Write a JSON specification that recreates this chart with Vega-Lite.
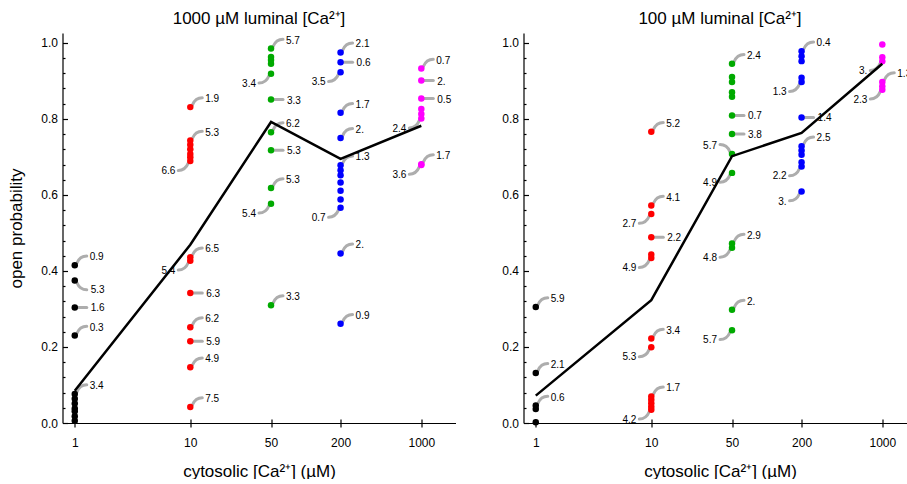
{
  "$schema": "https://vega.github.io/schema/vega-lite/v6.json",
  "background": "white",
  "padding": {"left": 7.5, "top": 10, "right": 0, "bottom": 0},
  "spacing": 46,
  "datasets": {
    "left": [
      {"cyto": 1, "po": 0.415, "label": "0.9", "dir": "ur"},
      {"cyto": 1, "po": 0.375, "label": "5.3", "dir": "dr"},
      {"cyto": 1, "po": 0.304, "label": "1.6", "dir": "r"},
      {"cyto": 1, "po": 0.230, "label": "0.3", "dir": "ur"},
      {"cyto": 1, "po": 0.076, "label": "3.4", "dir": "ur"},
      {"cyto": 1, "po": 0.064},
      {"cyto": 1, "po": 0.051},
      {"cyto": 1, "po": 0.038},
      {"cyto": 1, "po": 0.031},
      {"cyto": 1, "po": 0.018},
      {"cyto": 1, "po": 0.006},
      {"cyto": 10, "po": 0.831, "label": "1.9", "dir": "ur"},
      {"cyto": 10, "po": 0.743, "label": "5.3", "dir": "ur"},
      {"cyto": 10, "po": 0.732},
      {"cyto": 10, "po": 0.720},
      {"cyto": 10, "po": 0.708},
      {"cyto": 10, "po": 0.699},
      {"cyto": 10, "po": 0.689, "label": "6.6", "dir": "dl"},
      {"cyto": 10, "po": 0.436, "label": "6.5", "dir": "ur"},
      {"cyto": 10, "po": 0.427, "label": "5.4", "dir": "dl"},
      {"cyto": 10, "po": 0.342, "label": "6.3", "dir": "r"},
      {"cyto": 10, "po": 0.252, "label": "6.2", "dir": "ur"},
      {"cyto": 10, "po": 0.215, "label": "5.9", "dir": "r"},
      {"cyto": 10, "po": 0.1465, "label": "4.9", "dir": "ur"},
      {"cyto": 10, "po": 0.042, "label": "7.5", "dir": "ur"},
      {"cyto": 50, "po": 0.985, "label": "5.7", "dir": "ur"},
      {"cyto": 50, "po": 0.963},
      {"cyto": 50, "po": 0.955},
      {"cyto": 50, "po": 0.945},
      {"cyto": 50, "po": 0.919, "label": "3.4", "dir": "dl"},
      {"cyto": 50, "po": 0.851, "label": "3.3", "dir": "r"},
      {"cyto": 50, "po": 0.765, "label": "6.2", "dir": "ur"},
      {"cyto": 50, "po": 0.7175, "label": "5.3", "dir": "r"},
      {"cyto": 50, "po": 0.618, "label": "5.3", "dir": "ur"},
      {"cyto": 50, "po": 0.577, "label": "5.4", "dir": "dl"},
      {"cyto": 50, "po": 0.310, "label": "3.3", "dir": "ur"},
      {"cyto": 200, "po": 0.975, "label": "2.1", "dir": "ur"},
      {"cyto": 200, "po": 0.949, "label": "0.6", "dir": "r"},
      {"cyto": 200, "po": 0.923, "label": "3.5", "dir": "dl"},
      {"cyto": 200, "po": 0.816, "label": "1.7", "dir": "ur"},
      {"cyto": 200, "po": 0.750, "label": "2.", "dir": "ur"},
      {"cyto": 200, "po": 0.678, "label": "1.3", "dir": "ur"},
      {"cyto": 200, "po": 0.665},
      {"cyto": 200, "po": 0.652},
      {"cyto": 200, "po": 0.633},
      {"cyto": 200, "po": 0.611},
      {"cyto": 200, "po": 0.588},
      {"cyto": 200, "po": 0.566, "label": "0.7", "dir": "dl"},
      {"cyto": 200, "po": 0.446, "label": "2.", "dir": "ur"},
      {"cyto": 200, "po": 0.261, "label": "0.9", "dir": "ur"},
      {"cyto": 1000, "po": 0.9325, "label": "0.7", "dir": "ur"},
      {"cyto": 1000, "po": 0.901, "label": "2.", "dir": "r"},
      {"cyto": 1000, "po": 0.8535, "label": "0.5", "dir": "r"},
      {"cyto": 1000, "po": 0.826},
      {"cyto": 1000, "po": 0.813},
      {"cyto": 1000, "po": 0.801, "label": "2.4", "dir": "dl"},
      {"cyto": 1000, "po": 0.681, "label": "1.7", "dir": "ur"},
      {"cyto": 1000, "po": 0.679, "label": "3.6", "dir": "dl"}
    ],
    "leftMean": [
      {"cyto": 1, "po": 0.085},
      {"cyto": 10, "po": 0.469},
      {"cyto": 50, "po": 0.792},
      {"cyto": 200, "po": 0.695},
      {"cyto": 1000, "po": 0.782}
    ],
    "right": [
      {"cyto": 1, "po": 0.305, "label": "5.9", "dir": "ur"},
      {"cyto": 1, "po": 0.1316, "label": "2.1", "dir": "ur"},
      {"cyto": 1, "po": 0.046, "label": "0.6", "dir": "ur"},
      {"cyto": 1, "po": 0.037},
      {"cyto": 1, "po": 0.002},
      {"cyto": 10, "po": 0.766, "label": "5.2", "dir": "ur"},
      {"cyto": 10, "po": 0.572, "label": "4.1", "dir": "ur"},
      {"cyto": 10, "po": 0.550, "label": "2.7", "dir": "dl"},
      {"cyto": 10, "po": 0.4886, "label": "2.2", "dir": "r"},
      {"cyto": 10, "po": 0.443},
      {"cyto": 10, "po": 0.434, "label": "4.9", "dir": "dl"},
      {"cyto": 10, "po": 0.222, "label": "3.4", "dir": "ur"},
      {"cyto": 10, "po": 0.199, "label": "5.3", "dir": "dl"},
      {"cyto": 10, "po": 0.070, "label": "1.7", "dir": "ur"},
      {"cyto": 10, "po": 0.061},
      {"cyto": 10, "po": 0.052},
      {"cyto": 10, "po": 0.043},
      {"cyto": 10, "po": 0.035, "label": "4.2", "dir": "dl"},
      {"cyto": 50, "po": 0.945, "label": "2.4", "dir": "ur"},
      {"cyto": 50, "po": 0.910},
      {"cyto": 50, "po": 0.897},
      {"cyto": 50, "po": 0.870},
      {"cyto": 50, "po": 0.858},
      {"cyto": 50, "po": 0.809, "label": "0.7", "dir": "r"},
      {"cyto": 50, "po": 0.7605, "label": "3.8", "dir": "r"},
      {"cyto": 50, "po": 0.708, "label": "5.7", "dir": "ul"},
      {"cyto": 50, "po": 0.658, "label": "4.9", "dir": "dl"},
      {"cyto": 50, "po": 0.472, "label": "2.9", "dir": "ur"},
      {"cyto": 50, "po": 0.461, "label": "4.8", "dir": "dl"},
      {"cyto": 50, "po": 0.298, "label": "2.", "dir": "ur"},
      {"cyto": 50, "po": 0.244, "label": "5.7", "dir": "dl"},
      {"cyto": 200, "po": 0.978, "label": "0.4", "dir": "ur"},
      {"cyto": 200, "po": 0.965},
      {"cyto": 200, "po": 0.952},
      {"cyto": 200, "po": 0.908},
      {"cyto": 200, "po": 0.897, "label": "1.3", "dir": "dl"},
      {"cyto": 200, "po": 0.804, "label": "1.4", "dir": "r"},
      {"cyto": 200, "po": 0.728, "label": "2.5", "dir": "ur"},
      {"cyto": 200, "po": 0.717},
      {"cyto": 200, "po": 0.706},
      {"cyto": 200, "po": 0.686},
      {"cyto": 200, "po": 0.675, "label": "2.2", "dir": "dl"},
      {"cyto": 200, "po": 0.609, "label": "3.", "dir": "dl"},
      {"cyto": 1000, "po": 0.996},
      {"cyto": 1000, "po": 0.962},
      {"cyto": 1000, "po": 0.952, "label": "3.", "dir": "dl"},
      {"cyto": 1000, "po": 0.897, "label": "1.3", "dir": "ur"},
      {"cyto": 1000, "po": 0.886},
      {"cyto": 1000, "po": 0.877, "label": "2.3", "dir": "dl"}
    ],
    "rightMean": [
      {"cyto": 1, "po": 0.072},
      {"cyto": 10, "po": 0.323},
      {"cyto": 50, "po": 0.702},
      {"cyto": 200, "po": 0.763},
      {"cyto": 1000, "po": 0.945}
    ]
  },
  "hconcat": [
    {
      "width": 393,
      "height": 390,
      "title": {"text": "1000 µM luminal [Ca²⁺]"},
      "data": {"name": "left"},
      "resolve": {"axis": {"x": "independent", "y": "independent"}},
      "layer": [
        {
          "transform": [{"filter": "isValid(datum.dir)"}],
          "mark": {"type": "point", "filled": false, "color": "#adadad", "strokeWidth": 3, "strokeCap": "round", "size": 576, "opacity": 1},
          "encoding": {
            "x": {"field": "cyto", "type": "quantitative", "scale": {"type": "log", "domain": [0.783, 1977], "nice": false, "zero": false}, "axis": {"values": [1, 10, 50, 200, 1000], "tickSize": -4, "labels": false, "domain": false, "title": null, "orient": "bottom"}},
            "y": {"field": "po", "type": "quantitative", "scale": {"domain": [0, 1.026], "nice": false, "zero": false}, "axis": {"values": [0.04, 0.08, 0.12, 0.16, 0.24, 0.28, 0.32, 0.36, 0.44, 0.48, 0.52, 0.56, 0.64, 0.68, 0.72, 0.76, 0.84, 0.88, 0.92, 0.96], "tickSize": -2.5, "labels": false, "domain": false, "title": null, "orient": "left"}},
            "shape": {"field": "dir", "type": "nominal", "legend": null, "scale": {"domain": ["ur", "r", "dr", "dl", "ul"], "range": ["M0.17,-0.17 Q0.42,-0.78 1,-0.78", "M0.25,0 L1,0", "M0.17,0.17 Q0.42,0.78 1,0.78", "M-0.17,0.17 Q-0.42,0.78 -1,0.78", "M-0.17,-0.17 Q-0.42,-0.78 -1,-0.78"]}}
          }
        },
        {
          "mark": {"type": "point", "filled": true, "size": 42, "opacity": 1},
          "encoding": {
            "x": {"field": "cyto", "type": "quantitative", "scale": {"type": "log", "domain": [0.783, 1977], "nice": false, "zero": false}, "axis": {"values": [1, 10, 50, 200, 1000], "format": "d", "tickSize": 4, "title": "cytosolic [Ca²⁺] (µM)", "orient": "bottom", "labelPadding": 10, "titlePadding": 15}},
            "y": {"field": "po", "type": "quantitative", "scale": {"domain": [0, 1.026], "nice": false, "zero": false}, "axis": {"values": [0, 0.2, 0.4, 0.6, 0.8, 1.0], "format": ".1f", "tickSize": -5, "labelPadding": 10, "title": "open probability", "orient": "left", "titlePadding": 15}},
            "color": {"field": "cyto", "type": "ordinal", "legend": null, "scale": {"domain": [1, 10, 50, 200, 1000], "range": ["#000000", "#ff0000", "#00aa00", "#0000ff", "#ff00ff"]}}
          }
        },
        {
          "transform": [{"filter": "datum.dir === 'ur'"}],
          "mark": {"type": "text", "align": "left", "baseline": "middle", "dx": 15, "dy": -8, "fontSize": 10, "font": "Liberation Sans", "color": "black"},
          "encoding": {"x": {"field": "cyto", "type": "quantitative", "axis": null}, "y": {"field": "po", "type": "quantitative", "axis": null}, "text": {"field": "label"}}
        },
        {
          "transform": [{"filter": "datum.dir === 'r'"}],
          "mark": {"type": "text", "align": "left", "baseline": "middle", "dx": 16, "dy": 1, "fontSize": 10, "font": "Liberation Sans", "color": "black"},
          "encoding": {"x": {"field": "cyto", "type": "quantitative", "axis": null}, "y": {"field": "po", "type": "quantitative", "axis": null}, "text": {"field": "label"}}
        },
        {
          "transform": [{"filter": "datum.dir === 'dr'"}],
          "mark": {"type": "text", "align": "left", "baseline": "middle", "dx": 16, "dy": 10, "fontSize": 10, "font": "Liberation Sans", "color": "black"},
          "encoding": {"x": {"field": "cyto", "type": "quantitative", "axis": null}, "y": {"field": "po", "type": "quantitative", "axis": null}, "text": {"field": "label"}}
        },
        {
          "transform": [{"filter": "datum.dir === 'dl'"}],
          "mark": {"type": "text", "align": "right", "baseline": "middle", "dx": -15, "dy": 10, "fontSize": 10, "font": "Liberation Sans", "color": "black"},
          "encoding": {"x": {"field": "cyto", "type": "quantitative", "axis": null}, "y": {"field": "po", "type": "quantitative", "axis": null}, "text": {"field": "label"}}
        },
        {
          "transform": [{"filter": "datum.dir === 'ul'"}],
          "mark": {"type": "text", "align": "right", "baseline": "middle", "dx": -15, "dy": -8, "fontSize": 10, "font": "Liberation Sans", "color": "black"},
          "encoding": {"x": {"field": "cyto", "type": "quantitative", "axis": null}, "y": {"field": "po", "type": "quantitative", "axis": null}, "text": {"field": "label"}}
        },
        {
          "data": {"name": "leftMean"},
          "mark": {"type": "line", "color": "black", "strokeWidth": 2.5},
          "encoding": {"x": {"field": "cyto", "type": "quantitative", "axis": null}, "y": {"field": "po", "type": "quantitative", "axis": null}}
        }
      ]
    },
    {
      "width": 393,
      "height": 390,
      "title": {"text": "100 µM luminal [Ca²⁺]"},
      "data": {"name": "right"},
      "resolve": {"axis": {"x": "independent", "y": "independent"}},
      "layer": [
        {
          "transform": [{"filter": "isValid(datum.dir)"}],
          "mark": {"type": "point", "filled": false, "color": "#adadad", "strokeWidth": 3, "strokeCap": "round", "size": 576, "opacity": 1},
          "encoding": {
            "x": {"field": "cyto", "type": "quantitative", "scale": {"type": "log", "domain": [0.783, 1977], "nice": false, "zero": false}, "axis": {"values": [1, 10, 50, 200, 1000], "tickSize": -4, "labels": false, "domain": false, "title": null, "orient": "bottom"}},
            "y": {"field": "po", "type": "quantitative", "scale": {"domain": [0, 1.026], "nice": false, "zero": false}, "axis": {"values": [0.04, 0.08, 0.12, 0.16, 0.24, 0.28, 0.32, 0.36, 0.44, 0.48, 0.52, 0.56, 0.64, 0.68, 0.72, 0.76, 0.84, 0.88, 0.92, 0.96], "tickSize": -2.5, "labels": false, "domain": false, "title": null, "orient": "left"}},
            "shape": {"field": "dir", "type": "nominal", "legend": null, "scale": {"domain": ["ur", "r", "dr", "dl", "ul"], "range": ["M0.17,-0.17 Q0.42,-0.78 1,-0.78", "M0.25,0 L1,0", "M0.17,0.17 Q0.42,0.78 1,0.78", "M-0.17,0.17 Q-0.42,0.78 -1,0.78", "M-0.17,-0.17 Q-0.42,-0.78 -1,-0.78"]}}
          }
        },
        {
          "mark": {"type": "point", "filled": true, "size": 42, "opacity": 1},
          "encoding": {
            "x": {"field": "cyto", "type": "quantitative", "scale": {"type": "log", "domain": [0.783, 1977], "nice": false, "zero": false}, "axis": {"values": [1, 10, 50, 200, 1000], "format": "d", "tickSize": 4, "title": "cytosolic [Ca²⁺] (µM)", "orient": "bottom", "labelPadding": 10, "titlePadding": 15}},
            "y": {"field": "po", "type": "quantitative", "scale": {"domain": [0, 1.026], "nice": false, "zero": false}, "axis": {"values": [0, 0.2, 0.4, 0.6, 0.8, 1.0], "format": ".1f", "tickSize": -5, "labelPadding": 10, "title": null, "orient": "left"}},
            "color": {"field": "cyto", "type": "ordinal", "legend": null, "scale": {"domain": [1, 10, 50, 200, 1000], "range": ["#000000", "#ff0000", "#00aa00", "#0000ff", "#ff00ff"]}}
          }
        },
        {
          "transform": [{"filter": "datum.dir === 'ur'"}],
          "mark": {"type": "text", "align": "left", "baseline": "middle", "dx": 15, "dy": -8, "fontSize": 10, "font": "Liberation Sans", "color": "black"},
          "encoding": {"x": {"field": "cyto", "type": "quantitative", "axis": null}, "y": {"field": "po", "type": "quantitative", "axis": null}, "text": {"field": "label"}}
        },
        {
          "transform": [{"filter": "datum.dir === 'r'"}],
          "mark": {"type": "text", "align": "left", "baseline": "middle", "dx": 16, "dy": 1, "fontSize": 10, "font": "Liberation Sans", "color": "black"},
          "encoding": {"x": {"field": "cyto", "type": "quantitative", "axis": null}, "y": {"field": "po", "type": "quantitative", "axis": null}, "text": {"field": "label"}}
        },
        {
          "transform": [{"filter": "datum.dir === 'dr'"}],
          "mark": {"type": "text", "align": "left", "baseline": "middle", "dx": 16, "dy": 10, "fontSize": 10, "font": "Liberation Sans", "color": "black"},
          "encoding": {"x": {"field": "cyto", "type": "quantitative", "axis": null}, "y": {"field": "po", "type": "quantitative", "axis": null}, "text": {"field": "label"}}
        },
        {
          "transform": [{"filter": "datum.dir === 'dl'"}],
          "mark": {"type": "text", "align": "right", "baseline": "middle", "dx": -15, "dy": 10, "fontSize": 10, "font": "Liberation Sans", "color": "black"},
          "encoding": {"x": {"field": "cyto", "type": "quantitative", "axis": null}, "y": {"field": "po", "type": "quantitative", "axis": null}, "text": {"field": "label"}}
        },
        {
          "transform": [{"filter": "datum.dir === 'ul'"}],
          "mark": {"type": "text", "align": "right", "baseline": "middle", "dx": -15, "dy": -8, "fontSize": 10, "font": "Liberation Sans", "color": "black"},
          "encoding": {"x": {"field": "cyto", "type": "quantitative", "axis": null}, "y": {"field": "po", "type": "quantitative", "axis": null}, "text": {"field": "label"}}
        },
        {
          "data": {"name": "rightMean"},
          "mark": {"type": "line", "color": "black", "strokeWidth": 2.5},
          "encoding": {"x": {"field": "cyto", "type": "quantitative", "axis": null}, "y": {"field": "po", "type": "quantitative", "axis": null}}
        }
      ]
    }
  ],
  "config": {
    "view": {"stroke": null},
    "font": "Liberation Sans",
    "axis": {"labelFont": "Liberation Sans", "titleFont": "Liberation Sans", "labelFontSize": 12, "titleFontSize": 17, "titleFontWeight": "normal", "domainColor": "black", "tickColor": "black", "labelColor": "black", "titleColor": "black", "grid": false, "domainWidth": 1.2, "tickWidth": 1.2},
    "title": {"font": "Liberation Sans", "fontSize": 17, "fontWeight": "normal", "color": "black", "offset": 5}
  }
}
